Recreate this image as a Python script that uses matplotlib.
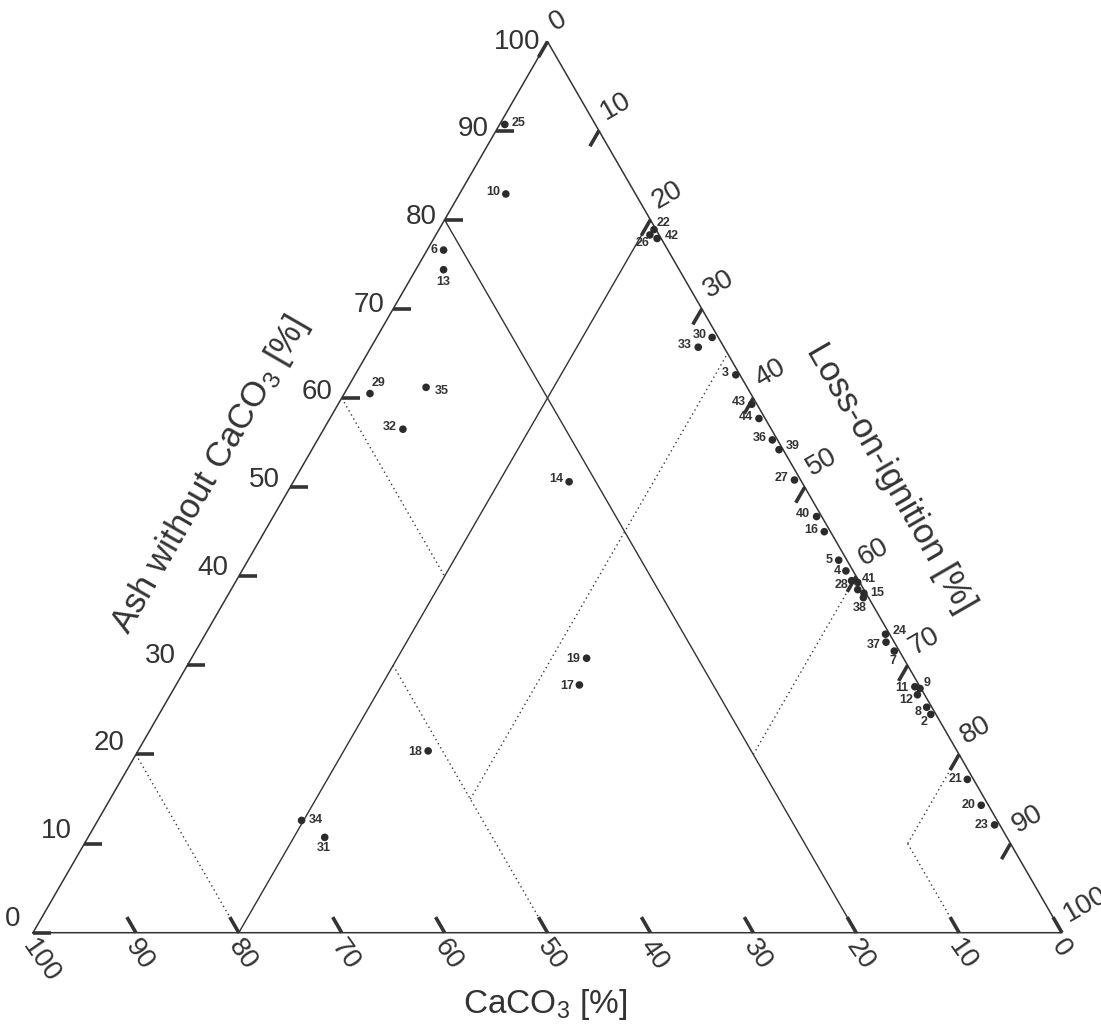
import numpy as np
import matplotlib
matplotlib.use("Agg")
import matplotlib.pyplot as plt

plt.rcParams['font.family'] = ['Liberation Sans', 'DejaVu Sans']
plt.rcParams['mathtext.default'] = 'regular'

# -----------------------------
# Samples: CaCO3, ash without CaCO3, loss-on-ignition [%]
# -----------------------------
sample_id = ['2', '3', '4', '5', '6', '7', '8', '9', '10', '11', '12', '13', '14', '15',
             '16', '17', '18', '19', '20', '21', '22', '23', '24', '25', '26', '27', '28',
             '29', '30', '31', '32', '33', '34', '35', '36', '37', '38', '39', '40', '41',
             '42', '43', '44', '']
caco3 = [0.5, 0.4, 0.7, 0.8, 21.8, 0.5, 0.5, 0.1, 12.6, 0.5, 0.7, 22.9, 22.6, 0.2,
         0.6, 33.0, 51.4, 30.8, 0.7, 0.6, 0.2, 0.5, 0.4, 8.8, 0.9, 0.6, 0.7,
         37.0, 0.6, 66.3, 35.8, 2.5, 67.6, 31.2, 0.5, 0.8, 0.5, 0.4, 0.5, 0.2,
         0.4, 0.5, 0.6, 0.6]
ash = [24.5, 62.6, 40.6, 41.8, 76.6, 31.6, 25.3, 27.4, 82.9, 27.6, 26.7, 74.4, 50.6, 38.1,
       45.0, 27.8, 20.4, 30.8, 14.3, 17.2, 78.9, 12.1, 33.5, 90.7, 78.3, 50.8, 39.5,
       60.5, 66.8, 10.7, 56.5, 65.7, 12.6, 61.2, 55.3, 32.6, 37.6, 54.2, 46.7, 39.3,
       77.9, 59.3, 57.7, 38.5]
loi = [75.0, 37.0, 58.7, 57.4, 1.6, 67.9, 74.2, 72.5, 4.5, 71.9, 72.6, 2.7, 26.8, 61.7,
       54.4, 39.2, 28.2, 38.4, 85.0, 82.2, 20.9, 87.4, 66.1, 0.5, 20.8, 48.6, 59.8,
       2.5, 32.6, 23.0, 7.7, 31.8, 19.8, 7.6, 44.2, 66.6, 61.9, 45.4, 52.8, 60.5,
       21.7, 40.2, 41.7, 60.9]

# field boundaries as (CaCO3, ash, LOI) end points
solid_lines = [((20, 80, 0), (20, 0, 80)),
               ((80, 0, 20), (0, 80, 20))]
dotted_lines = [((80, 20, 0), (80, 0, 20)),
                ((40, 60, 0), (40, 40, 20)),
                ((50, 30, 20), (50, 0, 50)),
                ((50, 15, 35), (0, 65, 35)),
                ((20, 20, 60), (0, 40, 60)),
                ((10, 10, 80), (10, 0, 90)),
                ((10, 10, 80), (0, 20, 80))]

ticks = list(range(0, 101, 10))

# label offsets in pixels (dx, dy downwards, ha)
lab_off = {
    '2': (-3, 7.7, 'right'), '3': (-7, -2.3, 'right'), '4': (-5.3, 0, 'right'),
    '5': (-5.7, 0, 'right'), '6': (-6.3, 0, 'right'), '7': (-1, 9.5, 'center'),
    '8': (-5, 4.4, 'right'), '9': (3.3, -5.6, 'left'), '10': (-6, -1.7, 'right'),
    '11': (-6.7, 1.3, 'right'), '12': (-4, 5.3, 'right'), '13': (0, 12, 'center'),
    '14': (-6, -2.7, 'right'), '15': (6.7, 0, 'left'), '16': (-5.6, -1.7, 'right'),
    '17': (-5.3, 1, 'right'), '18': (-6.4, 1, 'right'), '19': (-6, 1, 'right'),
    '20': (-5.7, 0, 'right'), '21': (-5, 0, 'right'), '22': (3, -7, 'left'),
    '23': (-5.7, 0, 'right'), '24': (6.7, -3.3, 'left'), '25': (6.7, -1, 'left'),
    '26': (0, 8, 'right'), '27': (-6, -2.3, 'right'), '28': (-3, 4, 'right'),
    '29': (1.7, -10.6, 'left'), '30': (-5.7, -2.7, 'right'), '31': (-1.4, 11, 'center'),
    '32': (-6, -2.3, 'right'), '33': (-6, -2.7, 'right'), '34': (7.6, -0.7, 'left'),
    '35': (8.3, 3.3, 'left'), '36': (-6, -2.3, 'right'), '37': (-5.3, 3.3, 'right'),
    '38': (-4, 10, 'center'), '39': (7, -3.3, 'left'), '40': (-6.3, -2.7, 'right'),
    '41': (4, -3.7, 'left'), '42': (7.3, -3, 'left'), '43': (-6.3, -2.6, 'right'),
    '44': (-6.4, -2, 'right'),
}

S3 = np.sqrt(3) / 2


def tern(c, a, l):
    c, a, l = np.asarray(c, float), np.asarray(a, float), np.asarray(l, float)
    s = c + a + l
    a = a / s * 100
    l = l / s * 100
    return l + a / 2, a * S3


# -----------------------------
# Figure, triangle placed in pixel space
# -----------------------------
W, H = 1101, 1032
ppu = (1062 - 33) / 100.0
fig = plt.figure(figsize=(W / 100, H / 100), dpi=100)
ax = fig.add_axes([0, 0, 1, 1])
x0 = -33 / ppu
y0 = -(H - 932.7) / ppu
ax.set_xlim(x0, x0 + W / ppu)
ax.set_ylim(y0, y0 + H / ppu)
ax.axis('off')

ink = '#333333'
pt = 0.72  # pixels -> points

ax.plot([0, 100, 50, 0], [0, 0, 100 * S3, 0], color=ink, lw=1.1, zorder=2)

for p, q in solid_lines:
    x, y = tern(*zip(p, q))
    ax.plot(x, y, color=ink, lw=1.0, zorder=2)
for p, q in dotted_lines:
    x, y = tern(*zip(p, q))
    ax.plot(x, y, color='#3a3a3a', lw=1.0, ls=(0, (1, 2.4)), zorder=2)

# ticks (the 100 end of each axis carries no tick mark)
tl = 18 / ppu
tick_kw = dict(color=ink, lw=2.6, solid_capstyle='butt', zorder=3)
for v in ticks:
    # left axis: ash
    x, y = tern(100 - v, v, 0)
    if v < 100:
        ax.plot([x, x + tl], [y, y], **tick_kw)
    f = 1 - v / 100
    ax.annotate(str(v), (x, y), xytext=(-(7 + 6 * f) * pt, 14 * f * pt),
                textcoords='offset points', ha='right', va='center',
                fontsize=20, color=ink)
    # bottom axis: CaCO3
    x, y = tern(v, 0, 100 - v)
    if v < 100:
        ax.plot([x, x - 0.5 * tl], [y, y + S3 * tl], **tick_kw)
    ax.annotate(str(v), (x, y), xytext=(-5 * pt, -9.5 * pt),
                textcoords='offset points', ha='left', va='center',
                rotation=-55, rotation_mode='anchor', fontsize=20, color=ink)
    # right axis: LOI
    x, y = tern(0, 100 - v, v)
    if v < 100:
        ax.plot([x, x - 0.5 * tl], [y, y - S3 * tl], **tick_kw)
    ax.annotate(str(v), (x, y), xytext=(3.6 * pt, 16.7 * pt),
                textcoords='offset points', ha='left', va='center',
                rotation=30, rotation_mode='anchor', fontsize=20, color=ink)

# axis titles
ax.text(49.8, -7.0, 'CaCO$_3$ [%]', ha='center', va='center', fontsize=24, color=ink)
ax.text(17.2, 44.5, 'Ash without CaCO$_3$ [%]', ha='center', va='center',
        rotation=60, fontsize=25, color=ink)
ax.text(83.3, 44.2, 'Loss-on-ignition [%]', ha='center', va='center',
        rotation=-60, fontsize=25, color=ink)

# samples
px, py = tern(caco3, ash, loi)
ax.scatter(px, py, s=30, color='#2b2b2b', edgecolors='none', zorder=5)
for name, x, y in zip(sample_id, px, py):
    if not name:
        continue
    dx, dy, ha = lab_off[name]
    ax.annotate(name, (x, y), xytext=(dx * pt, -dy * pt), textcoords='offset points',
                ha=ha, va='center', fontsize=9, fontweight='bold', color=ink, zorder=6)

fig.savefig('out.png', dpi=100)
